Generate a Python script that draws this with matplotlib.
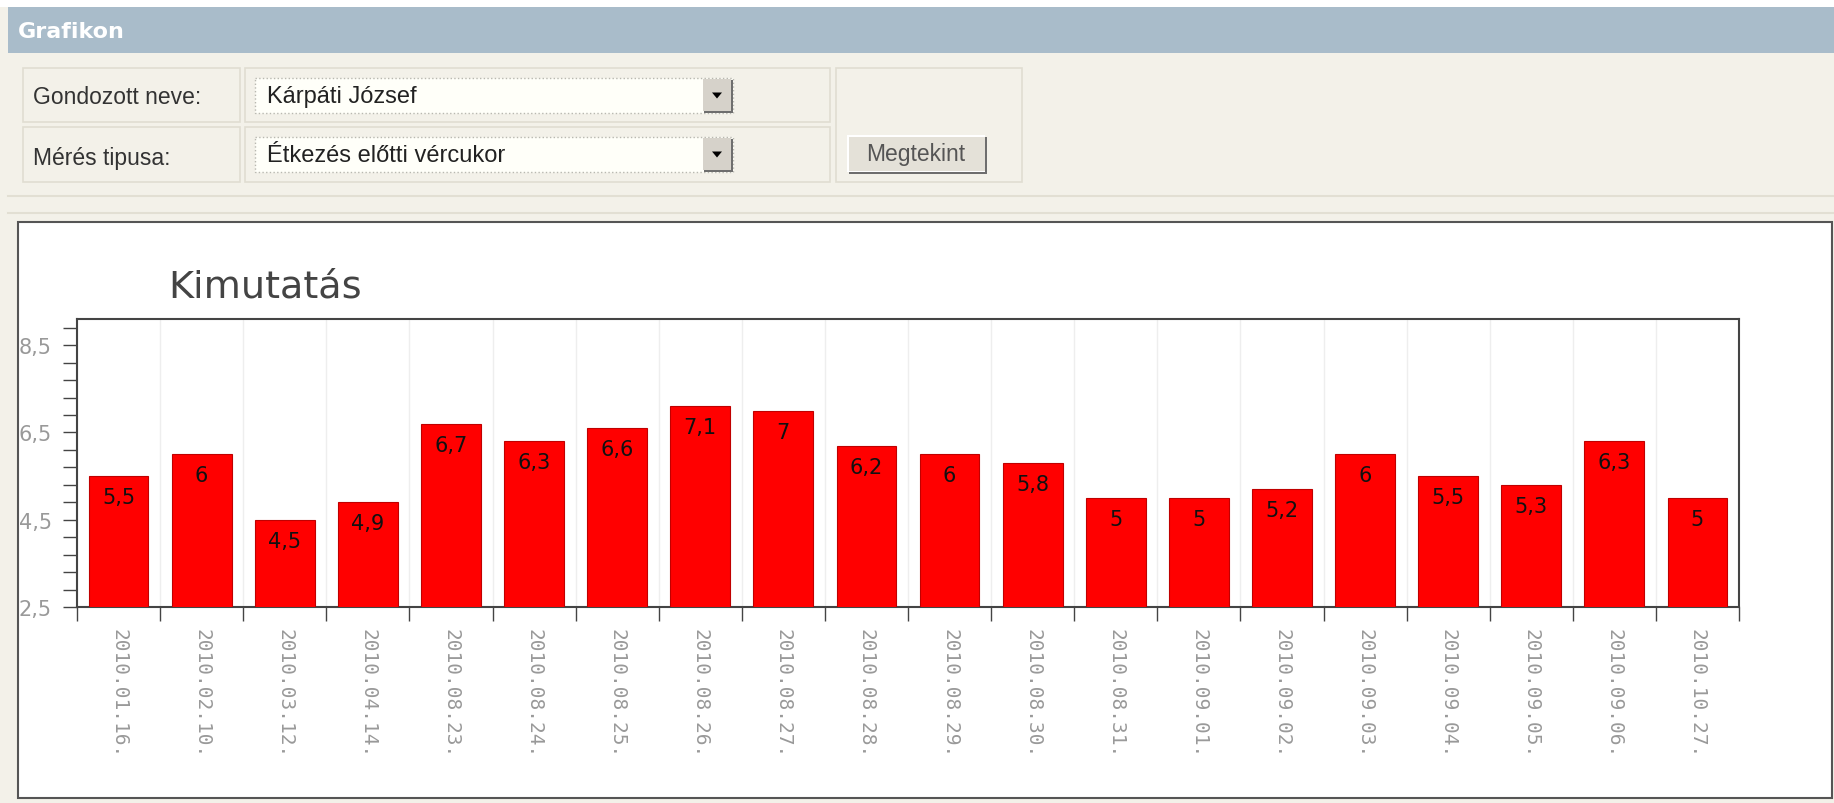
import matplotlib.pyplot as plt
import numpy as np
from matplotlib.patches import Rectangle, Polygon

# Adatok
dates = ["2010.01.16.", "2010.02.10.", "2010.03.12.", "2010.04.14.", "2010.08.23.",
         "2010.08.24.", "2010.08.25.", "2010.08.26.", "2010.08.27.", "2010.08.28.",
         "2010.08.29.", "2010.08.30.", "2010.08.31.", "2010.09.01.", "2010.09.02.",
         "2010.09.03.", "2010.09.04.", "2010.09.05.", "2010.09.06.", "2010.10.27."]
values = [5.5, 6, 4.5, 4.9, 6.7, 6.3, 6.6, 7.1, 7, 6.2,
          6, 5.8, 5, 5, 5.2, 6, 5.5, 5.3, 6.3, 5]
y_ticks = [2.5, 4.5, 6.5, 8.5]
patient_name = "Kárpáti József"
measure_type = "Étkezés előtti vércukor"

W, H = 1834, 804
fig = plt.figure(figsize=(W / 100, H / 100), dpi=100)
fig.patch.set_facecolor("#F3F1E9")

# Háttér / űrlap rajzolása pixel koordinátákban
bg = fig.add_axes([0, 0, 1, 1], zorder=0)
bg.set_xlim(0, W)
bg.set_ylim(H, 0)
bg.axis("off")

def rect(x0, y0, x1, y1, **kw):
    bg.add_patch(Rectangle((x0, y0), x1 - x0, y1 - y0, **kw))

rect(0, 0, W, 8, fc="white", ec="none")
rect(8, 8, W, 54, fc="#A9BCCA", ec="none")
bg.text(18, 32, "Grafikon", color="white", fontsize=16, fontweight="bold",
        va="center", ha="left", family="DejaVu Sans")

cell_kw = dict(fc="none", ec="#E0DDD2", lw=1.2)
rect(23, 69, 240, 123, **cell_kw)
rect(23, 128, 240, 183, **cell_kw)
rect(245, 69, 830, 123, **cell_kw)
rect(245, 128, 830, 183, **cell_kw)
rect(836, 69, 1022, 183, **cell_kw)

label_font = dict(family="Liberation Sans", color="#333333", va="center", ha="left")
bg.text(33, 97, "Gondozott neve:", fontsize=16.5, **label_font)
bg.text(33, 158, "Mérés tipusa:", fontsize=16.5, **label_font)

for (y0, y1, txt) in [(79, 114, patient_name), (138, 173, measure_type)]:
    rect(255, y0, 733, y1, fc="#FFFFF9", ec="#B8B8B0", lw=1, ls=":")
    rect(704, y0 + 2, 733, y1, fc="#6E6E6E", ec="none")
    rect(703, y0 + 1, 731, y1 - 2, fc="#D6D2CA", ec="none")
    cy = (y0 + y1) / 2
    bg.add_patch(Polygon([[712, cy - 3], [722, cy - 3], [717, cy + 3]], closed=True,
                         fc="black", ec="none"))
    bg.text(267, cy, txt, fontsize=17, **dict(label_font, color="#222222"))

# Gomb
rect(849, 138, 987, 175, fc="#6E6E6E", ec="none")
rect(847, 136, 985, 173, fc="#FFFFFF", ec="none")
rect(849, 138, 985, 172, fc="#E4E1D8", ec="none")
bg.text(916, 155, "Megtekint", fontsize=16.5, family="Liberation Sans",
        color="#555555", ha="center", va="center")

bg.plot([8, W], [197, 197], color="#E2DFD3", lw=1.5)
bg.plot([8, W], [214, 214], color="#E2DFD3", lw=1.5)

# Diagram doboz
rect(18, 223, 1832, 799, fc="white", ec="#555555", lw=1.5)
bg.text(168, 298, "Kimutatás", fontsize=27.5, color="#444444",
        family="DejaVu Sans", ha="left", va="baseline")

# Oszlopdiagram
left, right, top, bottom = 77, 1739, 320, 608
ax = fig.add_axes([left / W, (H - bottom) / H, (right - left) / W, (bottom - top) / H], zorder=2)
ax.set_facecolor("white")

x = np.arange(len(values))
bars = ax.bar(x, values, width=0.72, color="#FF0000", edgecolor="#C00000", linewidth=0.8, zorder=3)

for xi, v in zip(x, values):
    txt = f"{v:g}".replace(".", ",")
    ax.annotate(txt, (xi, v), xytext=(0, -21), textcoords="offset pixels",
                ha="center", va="center", fontsize=15, family="DejaVu Sans",
                color="#111111", zorder=4)

ax.set_xlim(-0.5, len(values) - 0.5)
ax.set_ylim(2.5, 9.1)

ax.set_yticks(y_ticks)
ax.set_yticklabels([f"{t:g}".replace(".", ",") for t in y_ticks], family="DejaVu Sans")
ax.set_yticks(np.arange(2.5, 9.1, 0.4), minor=True)
ax.tick_params(axis="y", which="both", direction="out", length=10, width=1, color="#444444",
               pad=8, labelsize=15, labelcolor="#999999")

ax.set_xticks(x)
ax.set_xticklabels(dates, rotation=270, family="DejaVu Sans Mono")
ax.set_xticks(np.arange(-0.5, len(values), 1), minor=True)
ax.tick_params(axis="x", which="major", length=0, pad=15, labelsize=14, labelcolor="#999999")
ax.tick_params(axis="x", which="minor", direction="out", length=10, width=1, color="#444444")

ax.grid(axis="x", which="minor", color="#EEEEEE", lw=1, zorder=0)
for s in ax.spines.values():
    s.set_color("#444444")
    s.set_linewidth(1.5)

plt.savefig("out.png", dpi=100, facecolor=fig.get_facecolor())
